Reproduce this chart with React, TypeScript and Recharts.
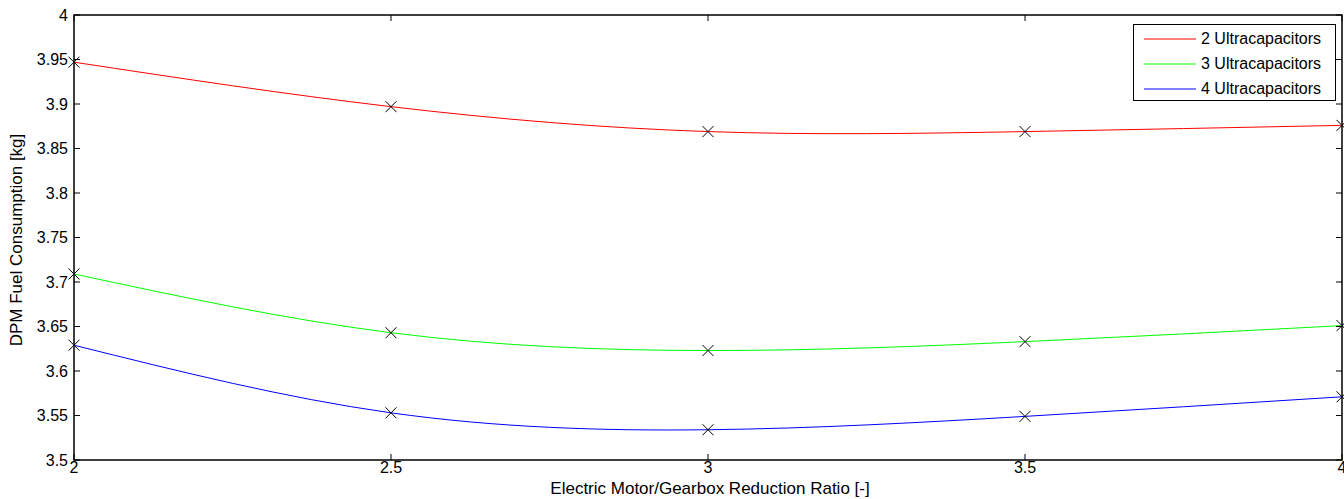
import React from 'react';
import { LineChart, Line, XAxis, YAxis, ReferenceArea, Label } from 'recharts';

const ratios = [2, 2.5, 3, 3.5, 4];
const uc2 = [3.947, 3.897, 3.869, 3.869, 3.876];
const uc3 = [3.709, 3.643, 3.623, 3.633, 3.651];
const uc4 = [3.629, 3.553, 3.534, 3.549, 3.571];
const xTicks = [2, 2.5, 3, 3.5, 4];
const yTicks = [3.5, 3.55, 3.6, 3.65, 3.7, 3.75, 3.8, 3.85, 3.9, 3.95, 4];
const seriesNames = ['2 Ultracapacitors', '3 Ultracapacitors', '4 Ultracapacitors'];
const seriesColors = ['#ff0000', '#00ff00', '#0000ff'];

const data = ratios.map((r, i) => ({ r, a: uc2[i], b: uc3[i], c: uc4[i] }));

const FONT = 'Liberation Sans, Arial, sans-serif';
const PLOT_LEFT = 74;
const PLOT_RIGHT = 1342;
const PLOT_TOP = 15;
const PLOT_BOTTOM = 460;
const TICK_MARGIN = 2;

const fmt = (v: number) => String(Number(v.toFixed(2)));

const XTick = (props: any) => {
  const { x, payload } = props;
  return (
    <g>
      <line x1={x} x2={x} y1={PLOT_BOTTOM} y2={PLOT_BOTTOM - 6} stroke="#000" />
      <line x1={x} x2={x} y1={PLOT_TOP} y2={PLOT_TOP + 6} stroke="#000" />
      <text x={x} y={PLOT_BOTTOM + TICK_MARGIN} dy="0.71em" textAnchor="middle" fontSize={16} fontFamily={FONT} fill="#000">
        {fmt(payload.value)}
      </text>
    </g>
  );
};

const YTick = (props: any) => {
  const { y, payload } = props;
  return (
    <g>
      <line x1={PLOT_LEFT} x2={PLOT_LEFT + 6} y1={y} y2={y} stroke="#000" />
      <line x1={PLOT_RIGHT} x2={PLOT_RIGHT - 6} y1={y} y2={y} stroke="#000" />
      <text x={PLOT_LEFT - 6} y={y} dy="0.35em" textAnchor="end" fontSize={16} fontFamily={FONT} fill="#000">
        {fmt(payload.value)}
      </text>
    </g>
  );
};

const XMark = (props: any) => {
  const { cx, cy, index } = props;
  if (cx == null || cy == null) return <g key={index} />;
  const s = 5.5;
  return (
    <g key={index}>
      <line x1={cx - s} y1={cy - s} x2={cx + s} y2={cy + s} stroke="#000" strokeWidth={1} />
      <line x1={cx - s} y1={cy + s} x2={cx + s} y2={cy - s} stroke="#000" strokeWidth={1} />
    </g>
  );
};

const LegendBox = () => (
  <div style={{ position: 'absolute', left: 1133, top: 24, border: '1px solid #000', background: '#fff', width: 203, height: 77, boxSizing: 'border-box', fontFamily: FONT, fontSize: 16, paddingTop: 1 }}>
    {seriesNames.map((n, i) => (
      <div key={n} style={{ display: 'flex', alignItems: 'center', height: 25 }}>
        <svg width={62} height={10} style={{ display: 'block' }}>
          <line x1={10} x2={62} y1={5} y2={5} stroke={seriesColors[i]} strokeWidth={1} />
        </svg>
        <span style={{ marginLeft: 5, color: '#000', whiteSpace: 'nowrap' }}>{n}</span>
      </div>
    ))}
  </div>
);

export default function App() {
  return (
    <div style={{ position: 'absolute', left: 0, top: 0, width: 1344, height: 499, background: '#fff' }}>
      <LineChart width={1344} height={499} data={data} margin={{ top: PLOT_TOP, right: 1344 - PLOT_RIGHT, bottom: 0, left: 0 }}>
        <XAxis dataKey="r" type="number" domain={[2, 4]} ticks={xTicks} height={499 - PLOT_BOTTOM} tickSize={0} tickLine={false} axisLine={false} tick={<XTick />} interval={0}>
          <Label content={() => (
            <text x={710} y={494} textAnchor="middle" fontSize={17} fontFamily={FONT} fill="#000">
              Electric Motor/Gearbox Reduction Ratio [-]
            </text>
          )} />
        </XAxis>
        <YAxis type="number" domain={[3.5, 4]} ticks={yTicks} width={PLOT_LEFT} tickSize={0} tickLine={false} axisLine={false} tick={<YTick />} interval={0}>
          <Label content={() => (
            <text x={0} y={0} transform={`translate(22, 240) rotate(-90)`} textAnchor="middle" fontSize={17} fontFamily={FONT} fill="#000">
              DPM Fuel Consumption [kg]
            </text>
          )} />
        </YAxis>
        <ReferenceArea x1={2} x2={4} y1={3.5} y2={4} fill="none" stroke="#000" strokeWidth={1.5} ifOverflow="visible" />
        <Line dataKey="a" name={seriesNames[0]} type="natural" stroke={seriesColors[0]} strokeWidth={1} dot={<XMark />} activeDot={false} isAnimationActive={false} />
        <Line dataKey="b" name={seriesNames[1]} type="natural" stroke={seriesColors[1]} strokeWidth={1} dot={<XMark />} activeDot={false} isAnimationActive={false} />
        <Line dataKey="c" name={seriesNames[2]} type="natural" stroke={seriesColors[2]} strokeWidth={1} dot={<XMark />} activeDot={false} isAnimationActive={false} />
      </LineChart>
      <LegendBox />
    </div>
  );
}
